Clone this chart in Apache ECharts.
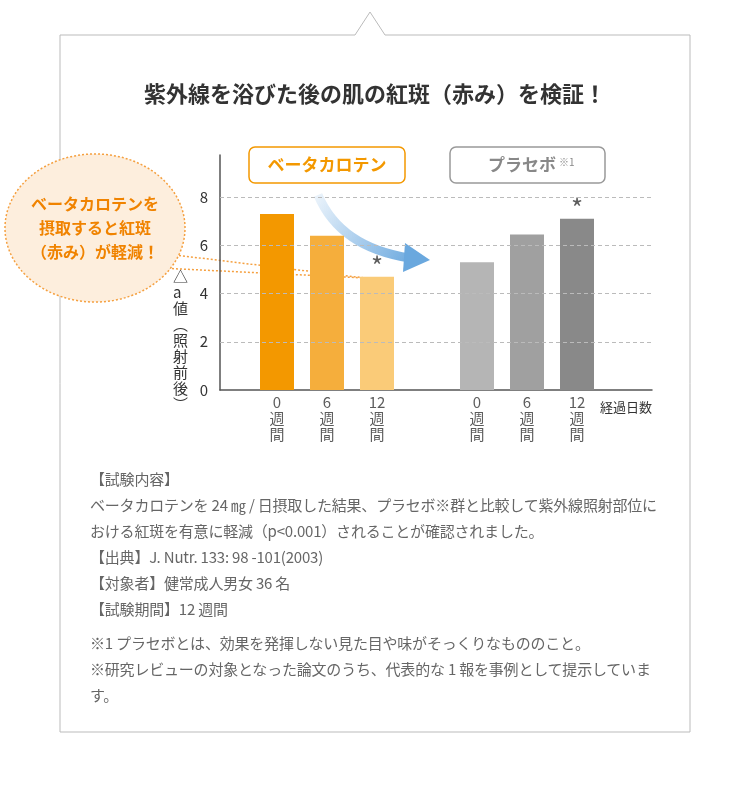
<!DOCTYPE html>
<html><head><meta charset="utf-8">
<script src="https://cdn.jsdelivr.net/npm/echarts@6/dist/echarts.min.js"></script>
<style>
body{margin:0;background:#fff;font-family:"Noto Sans CJK JP",sans-serif;}
#wrap{position:relative;width:750px;height:808px;}
#chart{position:absolute;left:0;top:0;width:750px;height:808px;}
#notes{position:absolute;left:90px;top:466px;width:575px;color:#666;font-size:15px;line-height:26px;letter-spacing:-0.2px;}
</style></head>
<body><div id="wrap"><div id="chart"></div>
<div id="notes">
【試験内容】<br>
ベータカロテンを 24 ㎎ / 日摂取した結果、プラセボ※群と比較して紫外線照射部位における紅斑を有意に軽減（p&lt;0.001）されることが確認されました。<br>
【出典】J. Nutr. 133: 98 -101(2003)<br>
【対象者】健常成人男女 36 名<br>
【試験期間】12 週間
<div style="margin-top:8px">※1 プラセボとは、効果を発揮しない見た目や味がそっくりなもののこと。<br>
※研究レビューの対象となった論文のうち、代表的な 1 報を事例として提示しています。</div>
</div></div>
<script>
const weeks = ['0', '6', '12'];
const betaValues = [7.3, 6.4, 4.7];
const placeboValues = [5.3, 6.45, 7.1];
const betaColors = ['#f39800', '#f5ae3c', '#facb78'];
const placeboColors = ['#b5b5b5', '#a0a0a0', '#898989'];
const yTicks = [2, 4, 6, 8];

const betaPos = [0, 1, 2];
const placeboPos = [4, 5, 6];

function barData(pos, vals, colors) {
    return vals.map((v, i) => ({value: [pos[i], v], itemStyle: {color: colors[i]}}));
}
const labelData = betaPos.concat(placeboPos).map((p, i) => ({
    value: [p, 0], label: {formatter: weeks[i % 3] + '\n週\n間'}
}));
const starData = [[2, betaValues[2]], [6, placeboValues[2]]];

const chart = echarts.init(document.getElementById('chart'));
chart.setOption({
    animation: false,
    textStyle: {fontFamily: 'Noto Sans CJK JP'},
    grid: {left: 220, right: 98, top: 155, bottom: 418},
    xAxis: {
        type: 'value', min: -1.14, max: 7.5,
        axisLine: {onZero: false, lineStyle: {color: '#555', width: 1.5}},
        axisTick: {show: false}, axisLabel: {show: false}, splitLine: {show: false}
    },
    yAxis: {
        type: 'value', min: 0, max: 9.75, interval: 2,
        axisLine: {show: true, onZero: false, lineStyle: {color: '#555', width: 1.5}},
        axisTick: {show: false}, splitLine: {show: false},
        axisLabel: {color: '#333', fontSize: 15, margin: 12, formatter: v => v % 2 === 0 ? v : ''}
    },
    series: [
        {type: 'bar', barWidth: 34, barGap: '-100%', data: barData(betaPos, betaValues, betaColors),
         markLine: {symbol: 'none', silent: true, label: {show: false},
             lineStyle: {color: '#bbb', type: [4, 3], width: 1},
             data: yTicks.map(t => ({yAxis: t}))}},
        {type: 'bar', barWidth: 34, barGap: '-100%', data: barData(placeboPos, placeboValues, placeboColors)},
        {type: 'scatter', symbolSize: 0, data: labelData, z: 5,
         label: {show: true, position: 'bottom', distance: 4, color: '#333', fontSize: 15, lineHeight: 16, align: 'center'}},
        {type: 'scatter', symbolSize: 0, data: starData,
         label: {show: true, position: 'top', distance: -2, formatter: '*', fontSize: 26, color: '#333'}}
    ],
    graphic: [
        {type: 'polyline', shape: {points: [[355, 35], [60, 35], [60, 732], [690, 732], [690, 35], [385, 35]]},
         style: {stroke: '#bbb', fill: 'none', lineWidth: 1}, z: -1},
        {type: 'polyline', shape: {points: [[355, 35], [370, 12], [385, 35]]}, style: {stroke: '#bbb', fill: 'none'}},
        {type: 'text', left: 'center', top: 83, style: {text: '紫外線を浴びた後の肌の紅斑（赤み）を検証！', fontSize: 22, fontWeight: 'bold', fill: '#333', fontFamily: 'Noto Sans CJK JP'}},
        {type: 'rect', shape: {x: 249, y: 147, width: 156, height: 36, r: 6}, style: {fill: '#fff', stroke: '#f39800', lineWidth: 1.5}},
        {type: 'text', x: 327, y: 165, style: {text: 'ベータカロテン', fontSize: 17, fontWeight: 'bold', fill: '#f39800', align: 'center', verticalAlign: 'middle', fontFamily: 'Noto Sans CJK JP'}},
        {type: 'rect', shape: {x: 450, y: 147, width: 155, height: 36, r: 6}, style: {fill: '#fff', stroke: '#999', lineWidth: 1.5}},
        {type: 'text', x: 522, y: 165, style: {text: 'プラセボ', fontSize: 17, fontWeight: 'bold', fill: '#888', align: 'center', verticalAlign: 'middle', fontFamily: 'Noto Sans CJK JP'}},
        {type: 'text', x: 559, y: 157, style: {text: '※1', fontSize: 10, fill: '#888', fontFamily: 'Noto Sans CJK JP'}},
        {type: 'bezierCurve', shape: {x1: 318, y1: 195, cpx1: 335, cpy1: 235, cpx2: 370, cpy2: 252, x2: 410, y2: 258},
         style: {stroke: new echarts.graphic.LinearGradient(0, 0, 1, 1, [{offset: 0, color: 'rgba(110,170,225,0.1)'}, {offset: 1, color: '#6aa8de'}]), lineWidth: 9, fill: 'none'}},
        {type: 'polygon', shape: {points: [[405, 243], [430, 260], [403, 272]]}, style: {fill: '#6aa8de'}},
        {type: 'line', shape: {x1: 175, y1: 255, x2: 365, y2: 278}, style: {stroke: '#f5a040', lineDash: [2, 2], lineWidth: 1.5}},
        {type: 'line', shape: {x1: 160, y1: 268, x2: 365, y2: 278}, style: {stroke: '#f5a040', lineDash: [2, 2], lineWidth: 1.5}},
        {type: 'ellipse', shape: {cx: 95, cy: 228, rx: 90, ry: 74}, style: {fill: '#fdeedd', stroke: '#f5a040', lineDash: [2, 2], lineWidth: 1.5}},
        {type: 'text', x: 95, y: 228, style: {text: 'ベータカロテンを\n摂取すると紅斑\n（赤み）が軽減！', fontSize: 16, lineHeight: 24, fontWeight: 'bold', fill: '#f08300', align: 'center', verticalAlign: 'middle', fontFamily: 'Noto Sans CJK JP'}},
        {type: 'text', x: 173, y: 268, style: {text: '△\na\n値\n︵\n照\n射\n前\n後\n︶', fontSize: 15, lineHeight: 16, fill: '#333', fontFamily: 'Noto Sans CJK JP'}},
        {type: 'text', x: 600, y: 401, style: {text: '経過日数', fontSize: 13, fill: '#333', fontFamily: 'Noto Sans CJK JP'}}
    ]
});
</script></body></html>
